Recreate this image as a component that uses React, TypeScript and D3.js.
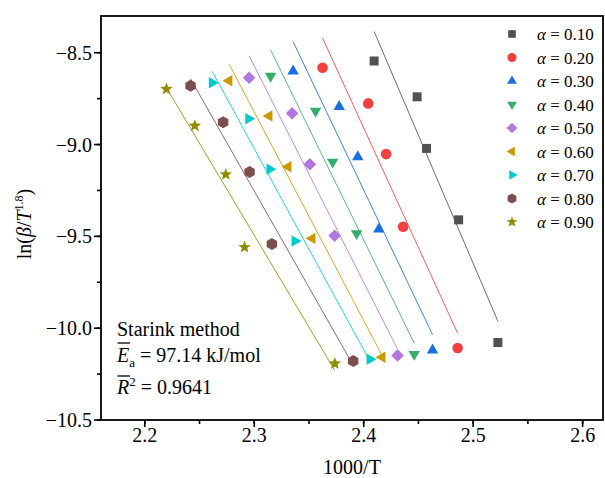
import React from "react";
import * as d3 from "d3";

// Conversion levels and their Origin-style colours / marker shapes
const alphaLabels = ["0.10", "0.20", "0.30", "0.40", "0.50", "0.60", "0.70", "0.80", "0.90"];
const seriesColors = ["#515151", "#F14040", "#1A6FDF", "#37AD6B", "#B177DE", "#CC9900", "#00CBCC", "#7D4E4E", "#8E8E00"];
const seriesShapes = ["square", "circle", "triUp", "triDown", "diamond", "triLeft", "triRight", "hexagon", "star"];

// 1000/T values for each conversion level
const x10 = [2.4095, 2.4488, 2.4574, 2.4867, 2.5226];
const x20 = [2.3624, 2.4041, 2.4205, 2.436, 2.4858];
const x30 = [2.3355, 2.3776, 2.3946, 2.4138, 2.4629];
const x40 = [2.3149, 2.356, 2.3716, 2.3935, 2.4461];
const x50 = [2.2953, 2.3346, 2.3508, 2.3734, 2.4309];
const x60 = [2.277, 2.3136, 2.331, 2.3529, 2.4169];
const x70 = [2.2615, 2.2948, 2.3142, 2.3371, 2.4056];
const x80 = [2.2418, 2.2716, 2.2957, 2.3161, 2.3904];
const x90 = [2.2198, 2.2457, 2.274, 2.2911, 2.3736];

// ln(beta / T^1.8) values for each conversion level
const y10 = [-8.545, -8.74, -9.021, -9.41, -10.078];
const y20 = [-8.582, -8.776, -9.052, -9.448, -10.108];
const y30 = [-8.6, -8.794, -9.067, -9.461, -10.12];
const y40 = [-8.627, -8.818, -9.095, -9.484, -10.142];
const y50 = [-8.636, -8.83, -9.107, -9.497, -10.149];
const y60 = [-8.653, -8.845, -9.121, -9.511, -10.158];
const y70 = [-8.664, -8.86, -9.134, -9.525, -10.169];
const y80 = [-8.68, -8.879, -9.15, -9.541, -10.179];
const y90 = [-8.698, -8.898, -9.163, -9.559, -10.193];

const xSeries = [x10, x20, x30, x40, x50, x60, x70, x80, x90];
const ySeries = [y10, y20, y30, y40, y50, y60, y70, y80, y90];

const xTicks = [2.2, 2.3, 2.4, 2.5, 2.6];
const yTicks = [-8.5, -9.0, -9.5, -10.0, -10.5];

const FONT = '"Liberation Serif", Tinos, "Times New Roman", "DejaVu Serif", serif';

function polygon(pts: [number, number][]) {
  return "M" + pts.map((p) => `${p[0].toFixed(2)},${p[1].toFixed(2)}`).join("L") + "Z";
}

function regular(n: number, r: number, startDeg: number) {
  const pts: [number, number][] = [];
  for (let k = 0; k < n; k++) {
    const a = ((startDeg + (360 / n) * k) * Math.PI) / 180;
    pts.push([r * Math.cos(a), r * Math.sin(a)]);
  }
  return polygon(pts);
}

function markerPath(shape: string) {
  switch (shape) {
    case "square":
      return polygon([[-4.5, -4.5], [4.5, -4.5], [4.5, 4.5], [-4.5, 4.5]]);
    case "circle": {
      const r = 5.3;
      return `M${r},0A${r},${r} 0 1,1 ${-r},0A${r},${r} 0 1,1 ${r},0Z`;
    }
    case "triUp":
      return regular(3, 6.6, -90);
    case "triDown":
      return regular(3, 6.6, 90);
    case "triLeft":
      return regular(3, 6.6, 180);
    case "triRight":
      return regular(3, 6.6, 0);
    case "diamond":
      return polygon([[0, -6.3], [6.3, 0], [0, 6.3], [-6.3, 0]]);
    case "hexagon":
      return regular(6, 6, -90);
    case "star": {
      const pts: [number, number][] = [];
      for (let k = 0; k < 10; k++) {
        const r = k % 2 === 0 ? 6.6 : 2.8;
        const a = ((-90 + 36 * k) * Math.PI) / 180;
        pts.push([r * Math.cos(a), r * Math.sin(a)]);
      }
      return polygon(pts);
    }
  }
  return "";
}

// Ordinary least-squares fit y = a + b x
function fit(xs: number[], ys: number[]) {
  const mx = d3.mean(xs) as number;
  const my = d3.mean(ys) as number;
  let sxy = 0;
  let sxx = 0;
  xs.forEach((x, i) => {
    sxy += (x - mx) * (ys[i] - my);
    sxx += (x - mx) * (x - mx);
  });
  const b = sxy / sxx;
  return { a: my - b * mx, b };
}

export default function App() {
  const W = 605;
  const H = 478;
  const left = 101;
  const right = 603;
  const top = 16;
  const bottom = 420;

  const x = d3.scaleLinear().domain([2.16, 2.6186]).range([left, right]);
  const y = d3.scaleLinear().domain([-10.5, -8.3]).range([bottom, top]);

  const xMinor = d3.range(2.2, 2.61, 0.05);
  const yMinor = d3.range(-10.5, -8.3, 0.25);

  return (
    <svg
      width={W}
      height={H}
      style={{ position: "absolute", left: 0, top: 0, background: "#fff", fontFamily: FONT }}
    >
      <rect x={0} y={0} width={W} height={H} fill="#fff" />

      {/* fitted lines */}
      {xSeries.map((xs, i) => {
        const { a, b } = fit(xs, ySeries[i]);
        const x0 = d3.min(xs) as number;
        const x1 = d3.max(xs) as number;
        return (
          <line
            key={"fit" + i}
            x1={x(x0)}
            y1={y(a + b * x0)}
            x2={x(x1)}
            y2={y(a + b * x1)}
            stroke={seriesColors[i]}
            strokeWidth={1}
            strokeOpacity={0.85}
          />
        );
      })}

      {/* data points */}
      {xSeries.map((xs, i) =>
        xs.map((xv, j) => (
          <path
            key={`pt${i}-${j}`}
            d={markerPath(seriesShapes[i])}
            transform={`translate(${x(xv)},${y(ySeries[i][j])})`}
            fill={seriesColors[i]}
          />
        ))
      )}

      {/* frame */}
      <rect
        x={left}
        y={top}
        width={right - left}
        height={bottom - top}
        fill="none"
        stroke="#000"
        strokeWidth={1.8}
      />

      {/* x axis ticks */}
      {xMinor.map((t, i) => (
        <line key={"xm" + i} x1={x(t)} x2={x(t)} y1={bottom} y2={bottom + 4} stroke="#000" strokeWidth={1.6} />
      ))}
      {xTicks.map((t) => (
        <g key={"xt" + t}>
          <line x1={x(t)} x2={x(t)} y1={bottom} y2={bottom + 7} stroke="#000" strokeWidth={1.6} />
          <text x={x(t)} y={bottom + 22} textAnchor="middle" fontSize={20} fill="#000">
            {d3.format(".1f")(t)}
          </text>
        </g>
      ))}

      {/* y axis ticks */}
      {yMinor.map((t, i) => (
        <line key={"ym" + i} x1={left - 4} x2={left} y1={y(t)} y2={y(t)} stroke="#000" strokeWidth={1.6} />
      ))}
      {yTicks.map((t) => (
        <g key={"yt" + t}>
          <line x1={left - 7} x2={left} y1={y(t)} y2={y(t)} stroke="#000" strokeWidth={1.6} />
          <text x={left - 9} y={y(t) + 7} textAnchor="end" fontSize={20} fill="#000">
            {d3.format(".1f")(t).replace("-", "\u2212")}
          </text>
        </g>
      ))}

      {/* axis titles */}
      <text x={(left + right) / 2} y={474} textAnchor="middle" fontSize={20} fill="#000">
        1000/T
      </text>
      <text transform="translate(31,224) rotate(-90)" textAnchor="middle" fontSize={20} fill="#000">
        ln(<tspan fontStyle="italic">β</tspan>/<tspan fontStyle="italic">T</tspan>
        <tspan fontSize={12} dy={-8}>1.8</tspan>
        <tspan dy={8}>)</tspan>
      </text>

      {/* legend */}
      {alphaLabels.map((lab, i) => {
        const ly = 34 + i * 23.5;
        return (
          <g key={"lg" + i}>
            <path d={markerPath(seriesShapes[i])} transform={`translate(512,${ly}) scale(0.85)`} fill={seriesColors[i]} />
            <text x={537} y={ly + 6} fontSize={17} fill="#000">
              <tspan fontStyle="italic">α</tspan> = {lab}
            </text>
          </g>
        );
      })}

      {/* annotation */}
      <g fontSize={20} fill="#000">
        <text x={117} y={336}>Starink method</text>
        <line x1={117.5} x2={130} y1={343} y2={343} stroke="#000" strokeWidth={1.3} />
        <text x={117} y={362}>
          <tspan fontStyle="italic">E</tspan>
          <tspan fontSize={13} dy={5}>a</tspan>
          <tspan dy={-5}> = 97.14 kJ/mol</tspan>
        </text>
        <line x1={117.5} x2={130} y1={376} y2={376} stroke="#000" strokeWidth={1.3} />
        <text x={117} y={394}>
          <tspan fontStyle="italic">R</tspan>
          <tspan fontSize={13} dy={-8}>2</tspan>
          <tspan dy={8}> = 0.9641</tspan>
        </text>
      </g>
    </svg>
  );
}
